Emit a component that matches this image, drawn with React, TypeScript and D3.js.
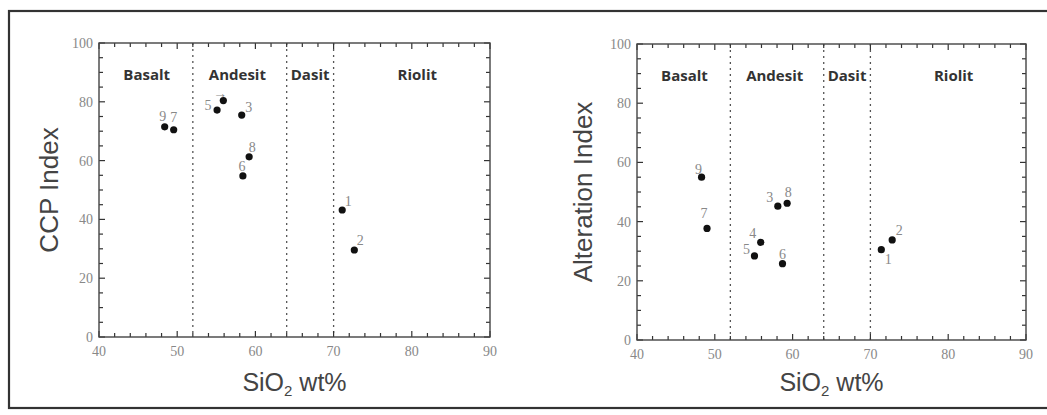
import React from "react";
import * as d3 from "d3";

const sampleIds = ["1", "2", "3", "4", "5", "6", "7", "8", "9"];
const ccpSiO2 = [71.1, 72.65, 58.25, 55.9, 55.1, 58.4, 49.55, 59.2, 48.4];
const ccpIndex = [43.2, 29.6, 75.5, 80.4, 77.2, 54.8, 70.5, 61.3, 71.5];
const ccpLabelText = ["1", "2", "3", "→", "5", "6", "7", "8", "9"];
const ccpLabelOffset: [number, number][] = [
  [6, -9], [6, -10], [7, -8], [-3, -8], [-9, -5], [-1, -10], [0, -13], [3, -10], [-2, -11],
];

const altSiO2 = [71.4, 72.8, 58.1, 55.9, 55.1, 58.7, 49.0, 59.3, 48.3];
const altIndex = [30.5, 33.8, 45.2, 33.0, 28.4, 25.8, 37.7, 46.2, 55.0];
const altLabelText = ["1", "2", "3", "4", "5", "6", "7", "8", "9"];
const altLabelOffset: [number, number][] = [
  [7, 9], [7, -10], [-8, -9], [-8, -9], [-8, -7], [0, -10], [-3, -15], [1, -11], [-3, -8],
];

const rockNames = ["Basalt", "Andesit", "Dasit", "Riolit"];
const rockLabelX = [46.1, 57.7, 67.0, 80.7];
const boundaries = [52, 64, 70];
const xTicks = [40, 50, 60, 70, 80, 90];
const yTicks = [0, 20, 40, 60, 80, 100];

type PanelProps = {
  left: number; right: number; top: number; bottom: number;
  xs: number[]; ys: number[]; labels: string[]; offsets: [number, number][];
  yTitle: string; yTitleGap: number;
};

function Panel(p: PanelProps) {
  const x = d3.scaleLinear().domain([40, 90]).range([p.left, p.right]);
  const y = d3.scaleLinear().domain([0, 100]).range([p.bottom, p.top]);
  const xMinor = d3.range(40, 90.01, 2);
  const yMinor = d3.range(0, 100.01, 5);
  const tickColor = "#333";
  return (
    <g>
      {boundaries.map((b) => (
        <line key={"b" + b} x1={x(b)} x2={x(b)} y1={y(100)} y2={y(0)}
          stroke="#555" strokeWidth={1.3} strokeDasharray="2,4" />
      ))}
      {xMinor.map((t) => {
        const len = t % 10 === 0 ? 6 : 4;
        return (
          <g key={"xt" + t}>
            <line x1={x(t)} x2={x(t)} y1={y(0)} y2={y(0) - len} stroke={tickColor} strokeWidth={1.2} />
            <line x1={x(t)} x2={x(t)} y1={y(100)} y2={y(100) + len} stroke={tickColor} strokeWidth={1.2} />
          </g>
        );
      })}
      {yMinor.map((t) => {
        const len = t % 20 === 0 ? 6 : 4;
        return (
          <g key={"yt" + t}>
            <line x1={x(40)} x2={x(40) + len} y1={y(t)} y2={y(t)} stroke={tickColor} strokeWidth={1.2} />
            <line x1={x(90)} x2={x(90) - len} y1={y(t)} y2={y(t)} stroke={tickColor} strokeWidth={1.2} />
          </g>
        );
      })}
      <rect x={x(40)} y={y(100)} width={x(90) - x(40)} height={y(0) - y(100)}
        fill="none" stroke="#444" strokeWidth={1.4} />
      {xTicks.map((t) => (
        <text key={"xl" + t} x={x(t)} y={y(0) + 19} textAnchor="middle"
          fontFamily="Liberation Serif" fontSize={14} fill="#888">{t}</text>
      ))}
      {yTicks.map((t) => (
        <text key={"yl" + t} x={x(40) - 6} y={y(t) + 5} textAnchor="end"
          fontFamily="Liberation Serif" fontSize={14} fill="#888">{t}</text>
      ))}
      {rockNames.map((n, i) => (
        <text key={n} x={x(rockLabelX[i])} y={y(87.4)} textAnchor="middle"
          fontFamily="Open Sans" fontWeight="bold" fontSize={15} fill="#333">{n}</text>
      ))}
      {p.xs.map((v, i) => (
        <circle key={"c" + i} cx={x(v)} cy={y(p.ys[i])} r={3.6} fill="#111" />
      ))}
      {p.xs.map((v, i) => (
        <text key={"l" + i} x={x(v) + p.offsets[i][0]} y={y(p.ys[i]) + p.offsets[i][1] + 5}
          textAnchor="middle" fontFamily="Liberation Serif" fontSize={14} fill="#888">{p.labels[i]}</text>
      ))}
      <text x={(p.left + p.right) / 2} y={391} textAnchor="middle"
        fontFamily="Liberation Sans" fontSize={25} fill="#444">
        SiO<tspan fontSize={15} dy={5}>2</tspan><tspan dy={-5}> wt%</tspan>
      </text>
      <text transform={`translate(${p.left - p.yTitleGap},${(p.top + p.bottom) / 2}) rotate(-90)`}
        textAnchor="middle" fontFamily="Liberation Sans" fontSize={26} fill="#444">{p.yTitle}</text>
    </g>
  );
}

export default function App() {
  return (
    <svg width={1047} height={415} style={{ position: "absolute", left: 0, top: 0, background: "#fff" }}>
      <rect x={9} y={11} width={1080} height={397} fill="none" stroke="#333" strokeWidth={2.2} />
      <Panel left={99} right={490} top={43} bottom={337} xs={ccpSiO2} ys={ccpIndex}
        labels={ccpLabelText} offsets={ccpLabelOffset} yTitle="CCP Index" yTitleGap={41} />
      <Panel left={637} right={1026} top={44} bottom={340} xs={altSiO2} ys={altIndex}
        labels={altLabelText} offsets={altLabelOffset} yTitle="Alteration Index" yTitleGap={45} />
    </svg>
  );
}
